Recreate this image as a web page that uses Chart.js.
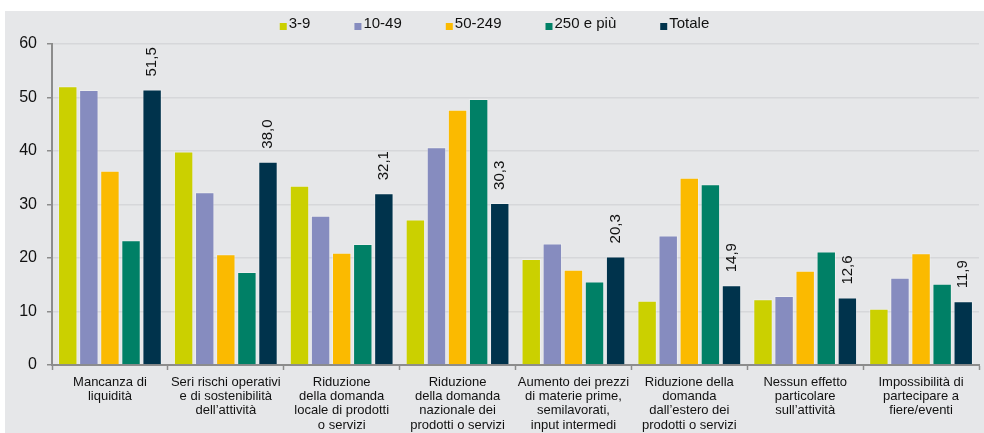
<!DOCTYPE html>
<html>
<head>
<meta charset="utf-8">
<script src="https://cdn.jsdelivr.net/npm/chart.js@4"></script>
<style>
  html, body { margin: 0; padding: 0; background: #fff; }
  #wrap { position: relative; width: 984px; height: 433px; }
</style>
</head>
<body>
<div id="wrap"><canvas id="chart" width="984" height="433"></canvas></div>
<script>
// categories (x axis, multi-line)
const categories = [
  ["Mancanza di", "liquidità"],
  ["Seri rischi operativi", "e di sostenibilità", "dell’attività"],
  ["Riduzione", "della domanda", "locale di prodotti", "o servizi"],
  ["Riduzione", "della domanda", "nazionale dei", "prodotti o servizi"],
  ["Aumento dei prezzi", "di materie prime,", "semilavorati,", "input intermedi"],
  ["Riduzione della", "domanda", "dall’estero dei", "prodotti o servizi"],
  ["Nessun effetto", "particolare", "sull’attività"],
  ["Impossibilità di", "partecipare a", "fiere/eventi"]
];

const seriesNames = ["3-9", "10-49", "50-249", "250 e più", "Totale"];

// values per class of employees (%)
const size3_9     = [52.1, 39.9, 33.5, 27.2, 19.8, 12.0, 12.3, 10.5];
const size10_49   = [51.4, 32.3, 27.9, 40.7, 22.7, 24.2, 12.9, 16.3];
const size50_249  = [36.3, 20.7, 21.0, 47.7, 17.8, 35.0, 17.6, 20.9];
const size250plus = [23.3, 17.4, 22.6, 49.7, 15.6, 33.8, 21.2, 15.2];
const totale      = [51.5, 38.0, 32.1, 30.3, 20.3, 14.9, 12.6, 11.9];

const yTicks = [0, 10, 20, 30, 40, 50, 60];

const colors = ["#cbd000", "#868cbf", "#fbba00", "#008066", "#00334c"];
const FONT = "'Liberation Sans', Arial, sans-serif";

const ctx = document.getElementById("chart").getContext("2d");

const seriesValues = [size3_9, size10_49, size50_249, size250plus, totale];
const datasets = seriesNames.map((name, i) => ({
  label: name,
  data: seriesValues[i],
  backgroundColor: colors[i],
  borderColor: "rgba(255,255,255,0.3)",
  borderWidth: 1,
  borderSkipped: "bottom",
  barPercentage: 0.92,
  categoryPercentage: 0.91
}));

// gray panel behind the chart
const panel = {
  id: "panel",
  beforeDraw(chart) {
    const c = chart.ctx;
    c.save();
    c.fillStyle = "#e6e7e9";
    c.fillRect(5, 11, chart.width - 5, chart.height - 11);
    c.restore();
  }
};

// legend drawn by hand so the spacing matches
const legendRow = {
  id: "legendRow",
  afterDraw(chart) {
    const c = chart.ctx;
    c.save();
    c.font = "15px " + FONT;
    c.textBaseline = "middle";
    const box = 7, gap = 2, pad = 44;
    const widths = seriesNames.map(n => box + gap + c.measureText(n).width);
    const total = widths.reduce((a, b) => a + b, 0) + pad * (widths.length - 1);
    let x = (chart.width + 5) / 2 - total / 2;
    const y = 24;
    seriesNames.forEach((n, i) => {
      c.fillStyle = colors[i];
      c.fillRect(x, y - 1, box, box);
      c.fillStyle = "#111";
      c.fillText(n, x + box + gap, y);
      x += widths[i] + pad;
    });
    c.restore();
  }
};

// rotated value labels above the Totale bars
const totalLabels = {
  id: "totalLabels",
  afterDatasetsDraw(chart) {
    const c = chart.ctx;
    const meta = chart.getDatasetMeta(4);
    c.save();
    c.font = "15px 'Liberation Sans Narrow', " + FONT;
    c.fillStyle = "#111";
    c.textAlign = "left";
    c.textBaseline = "middle";
    meta.data.forEach((bar, i) => {
      const txt = totale[i].toFixed(1).replace(".", ",");
      c.save();
      c.translate(bar.x, bar.y - 13);
      c.rotate(-Math.PI / 2);
      c.fillText(txt, 0, 0);
      c.restore();
    });
    c.restore();
  }
};

new Chart(ctx, {
  type: "bar",
  data: { labels: categories, datasets: datasets },
  plugins: [panel, legendRow, totalLabels],
  options: {
    responsive: false,
    animation: false,
    layout: { padding: { top: 44, right: 5, left: 0, bottom: 0 } },
    plugins: {
      legend: { display: false },
      tooltip: { enabled: false }
    },
    scales: {
      x: {
        offset: true,
        afterFit(scale) { scale.height = 68; },
        grid: {
          drawOnChartArea: false,
          drawTicks: true,
          tickLength: 5,
          tickColor: "#8c8c8c",
          tickWidth: 1.5
        },
        border: { color: "#8c8c8c", width: 2 },
        ticks: {
          maxRotation: 0,
          autoSkip: false,
          padding: 5,
          color: "#111",
          font: { family: FONT, size: 13, lineHeight: 1.1 }
        }
      },
      y: {
        min: 0,
        max: 60,
        afterFit(scale) { scale.width = 52; },
        afterBuildTicks(scale) { scale.ticks = yTicks.map(v => ({ value: v })); },
        grid: {
          color: "#d6d7da",
          lineWidth: 1.5,
          tickLength: 5,
          tickColor: "#8c8c8c",
          tickWidth: 1.5
        },
        border: { color: "#8c8c8c", width: 2 },
        ticks: {
          padding: 10,
          color: "#111",
          font: { family: FONT, size: 16 }
        }
      }
    }
  }
});
</script>
</body>
</html>
